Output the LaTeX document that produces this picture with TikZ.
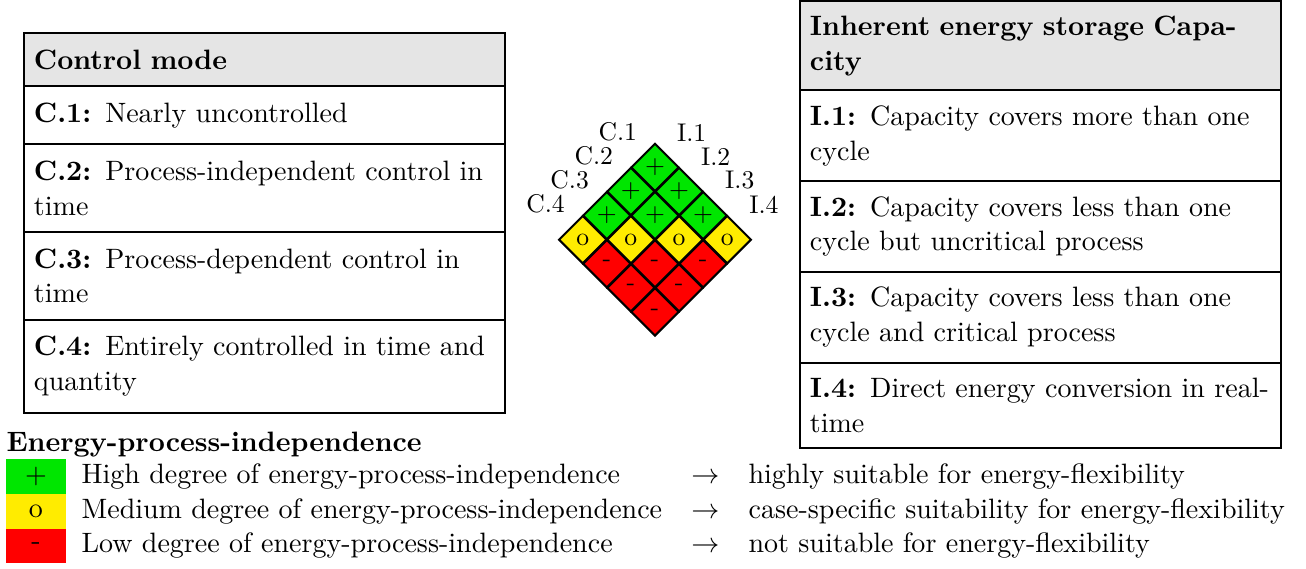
\documentclass[tikz,border=0pt,11pt]{standalone}
\usepackage{tikz}
\usetikzlibrary{positioning,shapes.geometric}
\definecolor{highgreen}{RGB}{0,230,0}
\definecolor{medyellow}{RGB}{255,236,0}
\definecolor{lowred}{RGB}{255,0,0}
\tikzstyle{rowbox} = [rectangle, draw=black, line width=0.8pt, text width=180pt, inner xsep=3.9pt, inner ysep=6.45pt, outer sep=0pt, align=left]
\tikzstyle{headbox} = [rowbox, fill=gray!20, font=\bfseries]
\tikzstyle{caprow} = [rowbox, inner ysep=5.95pt]
\tikzstyle{caphead} = [caprow, inner ysep=5.75pt, fill=gray!20, font=\bfseries]
\tikzstyle{cell} = [diamond, draw=black, line width=0.8pt, minimum width=18.83pt, minimum height=18.83pt, inner sep=0pt, font=\small, on grid]
\tikzstyle{highcell} = [cell, fill=highgreen]
\tikzstyle{medcell} = [cell, fill=medyellow]
\tikzstyle{lowcell} = [cell, fill=lowred]
\tikzstyle{tag} = [inner sep=0pt, font=\small]
\tikzstyle{legbox} = [rectangle, minimum width=23.43pt, minimum height=13.55pt, inner sep=0pt, outer sep=0pt]
\tikzstyle{legtext} = [inner sep=0pt, text height=7.6pt, text depth=2.1pt]

\begin{document}
\begin{tikzpicture}[node distance=9.41pt and 9.41pt]
			\useasboundingbox (0,0) rectangle (510.2pt,221.9pt);

			\node (ctrl) [headbox, anchor=north west] at (9.37pt,208.9pt) {Control mode};
			\node (c1) [rowbox, below=0pt of ctrl] {\textbf{C.1:} Nearly uncontrolled};
			\node (c2) [rowbox, below=0pt of c1] {\textbf{C.2:} Process-independent control in\\time};
			\node (c3) [rowbox, below=0pt of c2] {\textbf{C.3:} Process-dependent control in\\time};
			\node (c4) [rowbox, below=0pt of c3] {\textbf{C.4:} Entirely controlled in time and\\quantity};

			\node (cap) [caphead, anchor=north west] at (312.5pt,221.5pt) {Inherent energy storage Capa-\\city};
			\node (i1) [caprow, below=0pt of cap] {\textbf{I.1:} Capacity covers more than one\\cycle};
			\node (i2) [caprow, below=0pt of i1] {\textbf{I.2:} Capacity covers less than one\\cycle but uncritical process};
			\node (i3) [caprow, below=0pt of i2] {\textbf{I.3:} Capacity covers less than one\\cycle and critical process};
			\node (i4) [caprow, below=0pt of i3] {\textbf{I.4:} Direct energy conversion in real-\\time};

			\node (m11) [highcell] at (255.87pt,156.5pt) {+};
			\node (m12) [highcell, below right=of m11] {+};
			\node (m13) [highcell, below right=of m12] {+};
			\node (m14) [medcell, below right=of m13] {o};
			\node (m21) [highcell, below left=of m11] {+};
			\node (m22) [highcell, below right=of m21] {+};
			\node (m23) [medcell, below right=of m22] {o};
			\node (m24) [lowcell, below right=of m23] {-};
			\node (m31) [highcell, below left=of m21] {+};
			\node (m32) [medcell, below right=of m31] {o};
			\node (m33) [lowcell, below right=of m32] {-};
			\node (m34) [lowcell, below right=of m33] {-};
			\node (m41) [medcell, below left=of m31] {o};
			\node (m42) [lowcell, below right=of m41] {-};
			\node (m43) [lowcell, below right=of m42] {-};
			\node (m44) [lowcell, below right=of m43] {-};

			\node (tc1) [tag, above left=5.2pt and 1.9pt of m11.north west] {C.1};
			\node (tc2) [tag, above left=5.2pt and 1.9pt of m21.north west] {C.2};
			\node (tc3) [tag, above left=5.2pt and 1.9pt of m31.north west] {C.3};
			\node (tc4) [tag, above left=5.2pt and 1.9pt of m41.north west] {C.4};
			\node (ti1) [tag, above right=5.2pt and 3.5pt of m11.north east] {I.1};
			\node (ti2) [tag, above right=5.2pt and 3.5pt of m12.north east] {I.2};
			\node (ti3) [tag, above right=5.2pt and 3.5pt of m13.north east] {I.3};
			\node (ti4) [tag, above right=5.2pt and 3.5pt of m14.north east] {I.4};

			\node (legtitle) [anchor=base west, inner sep=0pt, font=\bfseries] at (2.35pt,45.4pt) {Energy-process-independence};
			\node (hibox) [legbox, fill=highgreen, below right=0.5pt and 0pt of legtitle.south west] {+};
			\node (medbox) [legbox, fill=medyellow, below=0pt of hibox] {o};
			\node (lowbox) [legbox, fill=lowred, below=0pt of medbox] {-};
			\node (hitext) [legtext, right=5.9pt of hibox] {High degree of energy-process-independence};
			\node (medtext) [legtext, right=5.9pt of medbox] {Medium degree of energy-process-independence};
			\node (lowtext) [legtext, right=5.9pt of lowbox] {Low degree of energy-process-independence};
			\node (medarrow) [legtext, right=11pt of medtext] {$\rightarrow$};
			\node (hiarrow) [legtext] at (hitext -| medarrow) {$\rightarrow$};
			\node (lowarrow) [legtext] at (lowtext -| medarrow) {$\rightarrow$};
			\node (medresult) [legtext, right=11pt of medarrow] {case-specific suitability for energy-flexibility};
			\node (hiresult) [legtext, anchor=west] at (hiarrow.east -| medresult.west) {highly suitable for energy-flexibility};
			\node (lowresult) [legtext, anchor=west] at (lowarrow.east -| medresult.west) {not suitable for energy-flexibility};
			\end{tikzpicture}
\end{document}
